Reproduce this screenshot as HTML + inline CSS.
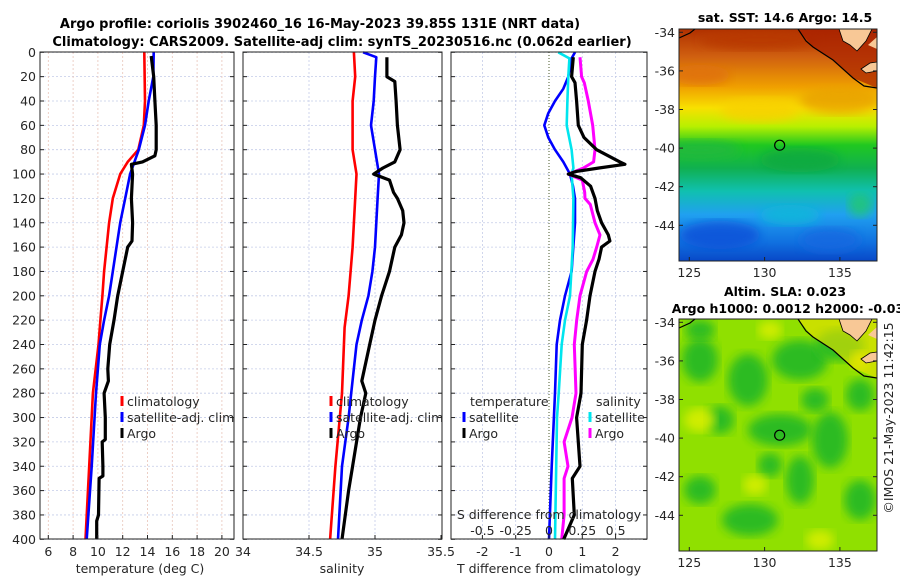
<!DOCTYPE html>
<html><head><meta charset="utf-8"><style>
html,body{margin:0;padding:0;background:#fff;}
svg{display:block;font-family:"DejaVu Sans","Liberation Sans",sans-serif;}
</style></head><body>
<svg id="c" width="900" height="580" viewBox="0 0 900 580">
<defs>
<linearGradient id="sstg" x1="0" y1="0" x2="0" y2="1">
<stop offset="0" stop-color="#b03000"/><stop offset="0.12" stop-color="#d06010"/>
<stop offset="0.25" stop-color="#f0a000"/><stop offset="0.34" stop-color="#f8e000"/>
<stop offset="0.42" stop-color="#b8f000"/><stop offset="0.5" stop-color="#20c820"/>
<stop offset="0.6" stop-color="#10b050"/><stop offset="0.7" stop-color="#10c0b0"/>
<stop offset="0.8" stop-color="#20a0f0"/><stop offset="0.92" stop-color="#1070e0"/>
<stop offset="1" stop-color="#0848c8"/></linearGradient>
<filter id="bl"><feGaussianBlur stdDeviation="5"/></filter>
<clipPath id="m1"><rect x="679" y="29" width="198" height="232"/></clipPath>
<clipPath id="m2"><rect x="679" y="319" width="198" height="232"/></clipPath>
</defs>
<text x="320" y="28" text-anchor="middle" font-size="13" font-weight="bold">Argo profile: coriolis 3902460_16 16-May-2023 39.85S 131E (NRT data)</text>
<text x="342" y="46" text-anchor="middle" font-size="13" font-weight="bold">Climatology: CARS2009. Satellite-adj clim: synTS_20230516.nc (0.062d earlier)</text>
<g id="plots"></g>
<g id="maps"></g>
</svg>
<script>
// ---- data (depth in m) ----
const tClimDepth=[0,40,60,80,90,100,120,140,160,180,200,220,240,280,340,400];
const tClimVal=[13.74,13.8,13.7,13.26,12.4,11.8,11.2,10.9,10.7,10.5,10.36,10.2,10.05,9.6,9.3,9.0];
const tSatDepth=[0,20,40,60,80,100,120,140,160,180,200,220,240,280,340,400];
const tSatVal=[14.5,14.47,14.1,13.8,13.3,12.6,12.2,11.8,11.5,11.2,10.9,10.5,10.15,9.85,9.5,9.1];
const tArgoDepth=[3,20,40,60,80,85,90,92,100,110,120,140,155,160,180,200,220,240,260,270,280,300,318,320,340,348,350,380,385,400];
const tArgoVal=[14.3,14.5,14.6,14.7,14.7,14.6,13.6,12.7,12.8,12.75,12.7,12.8,12.75,12.4,12.0,11.6,11.3,10.95,10.8,10.85,10.5,10.6,10.6,10.35,10.4,10.4,10.1,10.05,9.9,9.9];
const sClimDepth=[0,20,40,80,100,120,160,200,226,280,340,400];
const sClimVal=[34.84,34.85,34.83,34.83,34.86,34.85,34.83,34.80,34.77,34.75,34.70,34.66];
const sSatDepth=[0,4,20,40,60,80,100,120,160,180,200,220,240,280,300,340,400];
const sSatVal=[34.91,35.01,35.0,34.99,34.97,35.0,35.03,35.02,35.0,34.98,34.95,34.9,34.86,34.82,34.8,34.75,34.72];
const sArgoDepth=[4,20,24,40,60,80,90,95,100,105,115,120,130,140,150,160,180,200,220,240,270,280,300,340,360,400];
const sArgoVal=[35.09,35.09,35.15,35.16,35.17,35.19,35.15,35.06,34.99,35.11,35.14,35.17,35.21,35.22,35.2,35.15,35.11,35.05,35.0,34.96,34.9,34.93,34.89,34.83,34.8,34.75];
const dTSatDepth=[0,5,20,30,40,50,60,70,80,90,100,110,120,140,160,180,200,220,240,280,340,400];
const dTSatVal=[0.78,0.68,0.58,0.43,0.18,-0.02,-0.14,-0.02,0.18,0.43,0.63,0.72,0.78,0.78,0.73,0.68,0.48,0.33,0.23,0.18,0.08,0.0];
const dSSatDepth=[0,5,20,40,60,80,95,100,120,160,200,220,240,280,300,400];
const dSSatVal=[0.07,0.153,0.145,0.138,0.133,0.17,0.183,0.17,0.183,0.178,0.158,0.12,0.095,0.073,0.06,0.045];
const dSArgoDepth=[4,20,25,40,60,80,90,95,100,105,115,120,125,140,150,160,170,180,200,220,240,280,300,320,340,350,380,400];
const dSArgoVal=[0.233,0.245,0.265,0.295,0.328,0.345,0.335,0.258,0.145,0.25,0.268,0.27,0.31,0.345,0.383,0.358,0.33,0.283,0.233,0.208,0.19,0.203,0.173,0.113,0.143,0.113,0.113,0.095];
const dTArgoDepth=[4,20,25,40,60,70,80,90,92,95,98,100,103,110,120,130,140,150,155,160,170,180,200,220,240,280,300,340,350,380,400];
const dTArgoVal=[0.73,0.68,0.78,0.83,0.88,1.05,1.43,2.13,2.28,1.5,0.8,0.58,0.95,1.25,1.38,1.45,1.58,1.78,1.83,1.58,1.5,1.38,1.23,1.13,1.0,0.96,0.83,0.93,0.7,0.76,0.44];
const depthTicks=[0,20,40,60,80,100,120,140,160,180,200,220,240,260,280,300,320,340,360,380,400];
const tTicks=[6,8,10,12,14,16,18,20];
const sTicks=[34,34.5,35,35.5];
const dTTicks=[-2,-1,0,1,2];
const dSTicks=[-0.5,-0.25,0,0.25,0.5];
const latTicks=[-34,-36,-38,-40,-42,-44];
const lonTicks=[125,130,135];

const NS='http://www.w3.org/2000/svg';
const svg=document.getElementById('c');
const G=document.getElementById('plots');
function mk(tag,attrs,parent){const e=document.createElementNS(NS,tag);for(const k in attrs)e.setAttribute(k,attrs[k]);(parent||G).appendChild(e);return e;}
const Y=d=>52.3+d*1.2175;
const xT=t=>48.3+(t-6)*12.4;
const xS=s=>243+(s-34)*132;
const xD=v=>549+v*33.3;
const xDS=v=>549+v*4*33.3;
const panels=[{x0:40,x1:234},{x0:243,x1:442},{x0:451,x1:647}];
panels.forEach((p,i)=>{
  depthTicks.forEach(d=>{const l=mk('line',{x1:p.x0,x2:p.x1,y1:Y(d),y2:Y(d),stroke:'#c4cce8','stroke-width':0.8,'stroke-dasharray':'2,2'});
  
  });
});
tTicks.forEach(t=>{const l=mk('line',{x1:xT(t),x2:xT(t),y1:52,y2:539,stroke:'#e8c4b8','stroke-width':0.8,'stroke-dasharray':'2,2'});

});
[34.5,35].forEach(s=>{const l=mk('line',{x1:xS(s),x2:xS(s),y1:52,y2:539,stroke:'#c4cce8','stroke-width':0.8,'stroke-dasharray':'2,2'});

});
[-2,-1,1,2].forEach(v=>{const l=mk('line',{x1:xD(v),x2:xD(v),y1:52,y2:539,stroke:'#c4cce8','stroke-width':0.8,'stroke-dasharray':'2,2'});

});
{const l=mk('line',{x1:xD(0),x2:xD(0),y1:52,y2:539,stroke:'#4a5a2a','stroke-width':1,'stroke-dasharray':'1,2'});

}
function series(ds,vs,fx,color,name,w){
  const pts=ds.map((d,i)=>fx(vs[i]).toFixed(1)+','+Y(d).toFixed(1)).join(' ');
  const e=mk('polyline',{points:pts,fill:'none',stroke:color,'stroke-width':w||2.6,'stroke-linejoin':'round'});
  
  
}
series(tClimDepth,tClimVal,xT,'#ff0000','temp-climatology-line');
series(tSatDepth,tSatVal,xT,'#0000ff','temp-satellite-line');
series(tArgoDepth,tArgoVal,xT,'#000000','temp-argo-line',3.2);
series(sClimDepth,sClimVal,xS,'#ff0000','sal-climatology-line');
series(sSatDepth,sSatVal,xS,'#0000ff','sal-satellite-line');
series(sArgoDepth,sArgoVal,xS,'#000000','sal-argo-line',3.2);
series(dTSatDepth,dTSatVal,xD,'#0000ff','tdiff-satellite-line');
series(dSSatDepth,dSSatVal,xDS,'#00e5ee','sdiff-satellite-line');
series(dSArgoDepth,dSArgoVal,xDS,'#ff00ff','sdiff-argo-line',3);
series(dTArgoDepth,dTArgoVal,xD,'#000000','tdiff-argo-line',3.2);
panels.forEach((p,i)=>{
  const r=mk('rect',{x:p.x0,y:52,width:p.x1-p.x0,height:487,fill:'none',stroke:'#222','stroke-width':1});
  
  
  depthTicks.forEach(d=>{mk('line',{x1:p.x0,x2:p.x0+4,y1:Y(d),y2:Y(d),stroke:'#222'});mk('line',{x1:p.x1-4,x2:p.x1,y1:Y(d),y2:Y(d),stroke:'#222'});});
});
depthTicks.forEach(d=>{const t=mk('text',{x:36,y:Y(d)+4.5,'text-anchor':'end','font-size':12.5,fill:'#262626'});t.textContent=d;

});
function xticks(ticks,fx){ticks.forEach(v=>{mk('line',{x1:fx(v),x2:fx(v),y1:535,y2:539,stroke:'#222'});
const t=mk('text',{x:fx(v),y:556,'text-anchor':'middle','font-size':12.5,fill:'#262626'});t.textContent=v;

});}
xticks(tTicks,xT);xticks(sTicks,xS);xticks(dTTicks,xD);
function lab(x,y,txt,name,anchor,size,weight){const t=mk('text',{x:x,y:y,'text-anchor':anchor||'middle','font-size':size||12.5,fill:'#262626','font-weight':weight||'normal'});t.textContent=txt;

return t;}
lab(140,573,'temperature (deg C)','temperature-axis-title');
lab(342,573,'salinity','salinity-axis-title');
lab(549,573,'T difference from climatology','tdiff-axis-title');
lab(549,519,'S difference from climatology','sdiff-axis-title');
dSTicks.forEach(v=>lab(xDS(v),535,String(v),'sdiff-tick-label'));
function leg(x,y,color,txt){mk('line',{x1:x,x2:x,y1:y-10,y2:y,stroke:color,'stroke-width':3});lab(x+5,y,txt,'legend-entry','start');}
leg(122,406,'#ff0000','climatology');leg(122,422,'#0000ff','satellite-adj. clim');leg(122,438,'#000000','Argo');
leg(331,406,'#ff0000','climatology');leg(331,422,'#0000ff','satellite-adj. clim');leg(331,438,'#000000','Argo');
lab(470,406,'temperature','legend-temperature-header','start');
leg(464,422,'#0000ff','satellite');leg(464,438,'#000000','Argo');
lab(596,406,'salinity','legend-salinity-header','start');
leg(590,422,'#00e5ee','satellite');leg(590,438,'#ff00ff','Argo');

const M=document.getElementById('maps');
const lonX=l=>689.3+(l-125)*15.06;
function map(top,lat34,title1,title2,kind){
  const latY=la=>lat34+(-34-la)*((kind==1?225.3-32.3:515.3-322.3)/10);
  const g=mk('g',{'clip-path':kind==1?'url(#m1)':'url(#m2)'},M);
  
  
  if(kind==1){
    mk('rect',{x:679,y:top,width:198,height:232,fill:'url(#sstg)'},g);
    [[700,75,30,10,'#e07010'],[760,110,40,12,'#f8d000'],[840,100,40,14,'#e8a000'],[700,150,40,10,'#20b840'],[800,160,40,12,'#10a840'],[720,235,40,14,'#1050d8'],[830,240,30,12,'#1868e0'],[860,205,12,12,'#20c870'],[760,40,60,10,'#b83800'],[790,215,30,10,'#10b8d8']].forEach(a=>mk('ellipse',{cx:a[0],cy:a[1],rx:a[2],ry:a[3],fill:a[4],filter:'url(#bl)',opacity:0.8},g));
    mk('polygon',{points:'798,29 813,47 833,60 853,78 877,88 877,29',fill:'#a82000',opacity:0.7},g);
  } else {
    mk('rect',{x:679,y:top,width:198,height:232,fill:'#90e000'},g);
    [[700,360,18,22],[748,380,20,26],[800,360,28,20],[840,345,24,16],[780,430,32,16],[700,490,16,14],[750,520,28,16],[830,440,18,28],[860,500,16,20],[800,480,14,24],[720,420,14,14],[860,395,14,16],[700,330,15,10],[770,465,12,12],[815,400,14,12]].forEach(a=>mk('ellipse',{cx:a[0],cy:a[1],rx:a[2],ry:a[3],fill:'#20b828',filter:'url(#bl)',opacity:0.9},g));
    [[700,420,16,12],[820,540,14,10],[770,330,12,9],[860,360,9,9],[755,485,12,10]].forEach(a=>mk('ellipse',{cx:a[0],cy:a[1],rx:a[2],ry:a[3],fill:'#e0f000',filter:'url(#bl)',opacity:0.8},g));
    mk('polygon',{points:'798,'+top+' 813,'+(top+18)+' 833,'+(top+31)+' 853,'+(top+49)+' 877,'+(top+59)+' 877,'+top,fill:'#f0e000',opacity:0.6},g);
  }
  mk('polygon',{points:'839,'+top+' 843,'+(top+12)+' 850,'+(top+16)+' 857,'+(top+22)+' 866,'+(top+12)+' 872,'+top,fill:'#f8c896',stroke:'#000','stroke-width':0.8},g);
  mk('polygon',{points:'861,'+(top+40)+' 870,'+(top+34)+' 877,'+(top+33)+' 877,'+(top+42)+' 866,'+(top+44),fill:'#f8c896',stroke:'#000','stroke-width':0.8},g);
  mk('polygon',{points:'868,'+(top+16)+' 877,'+(top+8)+' 877,'+(top+20),fill:'#f8c896'},g);
  const c=mk('polyline',{points:'798,'+top+' 806,'+(top+12)+' 813,'+(top+18)+' 833,'+(top+31)+' 853,'+(top+49)+' 864,'+(top+57)+' 877,'+(top+59),fill:'none',stroke:'#000','stroke-width':1.2},g);
  
  
  mk('polyline',{points:'679,'+(top+9)+' 690,'+(top+4)+' 695,'+top,fill:'none',stroke:'#000','stroke-width':1.2},g);
  const ci=mk('circle',{cx:lonX(131),cy:latY(-39.85),r:5,fill:'none',stroke:'#000','stroke-width':1.2},M);
  
  
  const fr=mk('rect',{x:679,y:top,width:198,height:232,fill:'none',stroke:'#222'},M);
  
  
  latTicks.forEach(la=>{mk('line',{x1:679,x2:683,y1:latY(la),y2:latY(la),stroke:'#222'},M);mk('line',{x1:873,x2:877,y1:latY(la),y2:latY(la),stroke:'#222'},M);
    const t=mk('text',{x:675,y:latY(la)+4.5,'text-anchor':'end','font-size':12.5,fill:'#262626'},M);t.textContent=la;
    
    });
  lonTicks.forEach(lo=>{mk('line',{x1:lonX(lo),x2:lonX(lo),y1:top+228,y2:top+232,stroke:'#222'},M);
    const t=mk('text',{x:lonX(lo),y:top+248,'text-anchor':'middle','font-size':12.5,fill:'#262626'},M);t.textContent=lo;
    
    });
  const t1=mk('text',{x:785,y:kind==1?22:296,'text-anchor':'middle','font-size':12.5,'font-weight':'bold'},M);t1.textContent=title1;
  
  
  if(title2){const t2=mk('text',{x:788,y:313,'text-anchor':'middle','font-size':12.5,'font-weight':'bold'},M);t2.textContent=title2;
  
  }
}
map(29,32.3,'sat. SST: 14.6 Argo: 14.5',null,1);
map(319,322.3,'Altim. SLA: 0.023','Argo h1000: 0.0012 h2000: -0.03',2);
const cp=mk('text',{x:0,y:0,'text-anchor':'middle','font-size':12.5,fill:'#262626',transform:'translate(893,418) rotate(-90)'},M);
cp.textContent='©IMOS 21-May-2023 11:42:15';


</script>
</body></html>
